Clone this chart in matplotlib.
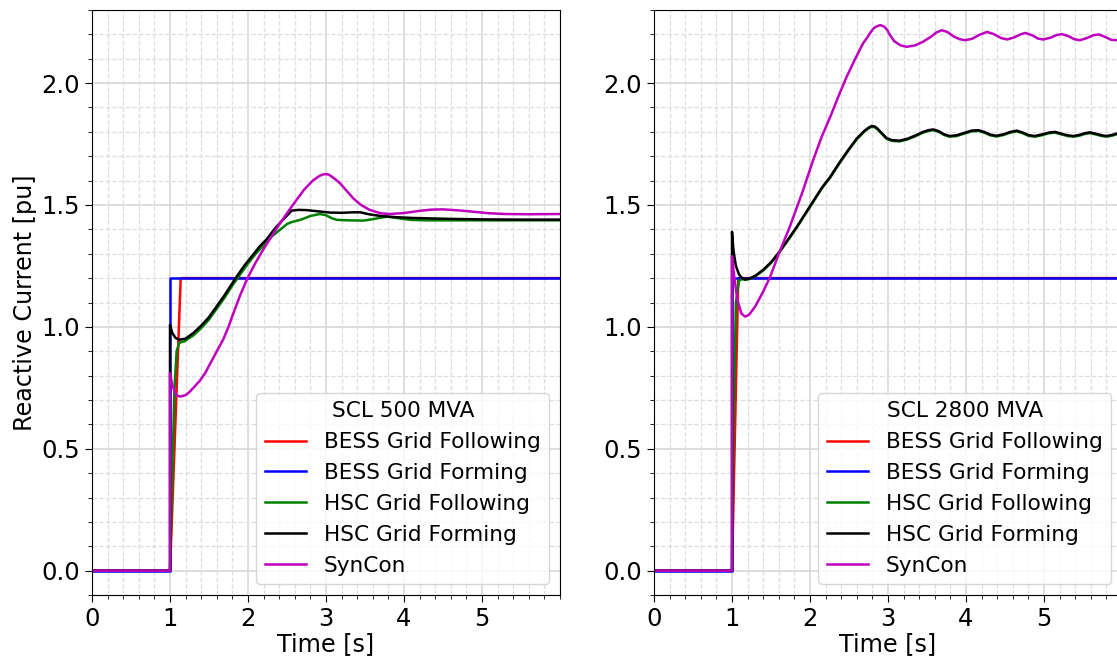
import matplotlib
matplotlib.use("Agg")
import matplotlib.pyplot as plt
from matplotlib.ticker import MultipleLocator

# ---------------- SCL 500 MVA ----------------
t_bess_gfl_500 = [0.0, 1.0, 1.137, 6.0]
i_bess_gfl_500 = [0.0, 0.0, 1.2, 1.2]

t_bess_gfm_500 = [0.0, 1.0, 1.0, 6.0]
i_bess_gfm_500 = [0.0, 0.0, 1.2, 1.2]

t_hsc_gfl_500 = [0.0, 1.0, 1.03, 1.056, 1.085, 1.12, 1.18, 1.3, 1.4, 1.5, 1.6, 1.7,
                 1.8, 1.9, 2.0, 2.1, 2.2, 2.3, 2.41, 2.5, 2.56, 2.68, 2.8, 2.92,
                 3.0, 3.08, 3.14, 3.3, 3.48, 3.6, 3.78, 3.9, 4.08, 4.3, 5.0, 6.0]
i_hsc_gfl_500 = [0.0, 0.0, 0.4, 0.74, 0.9, 0.935, 0.94, 0.965, 0.995, 1.03, 1.075, 1.12,
                 1.17, 1.215, 1.26, 1.3, 1.335, 1.37, 1.398, 1.422, 1.43, 1.44, 1.455, 1.463,
                 1.458, 1.445, 1.439, 1.437, 1.436, 1.442, 1.452, 1.447, 1.439, 1.437, 1.437, 1.437]

t_hsc_gfm_500 = [0.0, 1.0, 1.0, 1.03, 1.07, 1.12, 1.2, 1.3, 1.4, 1.5, 1.6, 1.7,
                 1.77, 1.855, 1.95, 2.05, 2.15, 2.24, 2.35, 2.45, 2.56, 2.65, 2.75, 2.9,
                 3.05, 3.2, 3.35, 3.44, 3.55, 3.7, 3.9, 4.1, 4.33, 4.6, 5.0, 5.5, 6.0]
i_hsc_gfm_500 = [0.0, 0.0, 1.008, 0.975, 0.955, 0.947, 0.952, 0.975, 1.005, 1.04, 1.085, 1.13,
                 1.165, 1.206, 1.25, 1.29, 1.33, 1.36, 1.405, 1.44, 1.477, 1.48, 1.479, 1.474,
                 1.469, 1.468, 1.47, 1.47, 1.462, 1.455, 1.45, 1.447, 1.445, 1.443, 1.441, 1.44, 1.44]

t_syncon_500 = [0.0, 1.0, 1.0, 1.03, 1.08, 1.13, 1.2, 1.25, 1.3, 1.385, 1.45, 1.5, 1.6, 1.68,
                1.75, 1.8, 1.9, 1.98, 2.05, 2.1, 2.2, 2.3, 2.41, 2.52, 2.62, 2.72, 2.83, 2.92,
                2.96, 3.0, 3.04, 3.08, 3.13, 3.18, 3.26, 3.35, 3.45, 3.56, 3.7, 3.82, 4.0, 4.2,
                4.35, 4.5, 4.7, 4.9, 5.1, 5.3, 5.6, 6.0]
i_syncon_500 = [0.0, 0.0, 0.81, 0.76, 0.72, 0.714, 0.72, 0.733, 0.75, 0.78, 0.81, 0.84, 0.9,
                0.947, 1.0, 1.045, 1.13, 1.19, 1.235, 1.265, 1.32, 1.37, 1.425, 1.475, 1.52,
                1.563, 1.6, 1.62, 1.625, 1.627, 1.624, 1.615, 1.603, 1.589, 1.56, 1.527, 1.5,
                1.48, 1.466, 1.463, 1.467, 1.476, 1.481, 1.482, 1.478, 1.472, 1.466, 1.463,
                1.462, 1.463]

# ---------------- SCL 2800 MVA ----------------
t_bess_gfl_2800 = [0.0, 1.0, 1.08, 6.0]
i_bess_gfl_2800 = [0.0, 0.0, 1.2, 1.2]

t_bess_gfm_2800 = [0.0, 1.0, 1.0, 6.0]
i_bess_gfm_2800 = [0.0, 0.0, 1.2, 1.2]

t_hsc_gfm_2800 = [0.0, 1.0, 1.0, 1.02, 1.05, 1.09, 1.13, 1.167, 1.22, 1.3, 1.4, 1.5,
                  1.6, 1.7, 1.83, 1.95, 2.05, 2.15, 2.26, 2.38, 2.5, 2.6, 2.7, 2.75, 2.79,
                  2.83, 2.86, 2.92, 2.98, 3.05, 3.15, 3.25, 3.35, 3.45, 3.52, 3.58, 3.65, 3.72,
                  3.79, 3.88, 3.98, 4.07, 4.16, 4.24, 4.31, 4.39, 4.48, 4.57, 4.65, 4.73, 4.8,
                  4.88, 4.97, 5.06, 5.14, 5.22, 5.3, 5.38, 5.46, 5.53, 5.59, 5.67, 5.74,
                  5.8, 5.88, 5.93, 6.0]
i_hsc_gfm_2800 = [0.0, 0.0, 1.39, 1.31, 1.25, 1.215, 1.2, 1.195, 1.198, 1.21, 1.234, 1.265,
                  1.305, 1.35, 1.41, 1.47, 1.52, 1.57, 1.616, 1.675, 1.73, 1.773, 1.805, 1.817,
                  1.824, 1.822, 1.815, 1.795, 1.775, 1.766, 1.764, 1.772, 1.785, 1.8, 1.807,
                  1.81, 1.803, 1.79, 1.783, 1.786, 1.796, 1.805, 1.807, 1.799, 1.789, 1.784,
                  1.79, 1.8, 1.805, 1.797, 1.787, 1.783, 1.789, 1.797, 1.8, 1.793, 1.786, 1.783,
                  1.788, 1.795, 1.798, 1.792, 1.786, 1.783, 1.788, 1.793, 1.795]

t_hsc_gfl_2800 = [0.0, 1.0, 1.02, 1.05, 1.09, 1.13, 1.167, 1.22, 1.3, 1.4, 1.5,
                  1.6, 1.7, 1.83, 1.95, 2.05, 2.15, 2.26, 2.38, 2.5, 2.6, 2.7, 2.75, 2.79,
                  2.83, 2.86, 2.92, 2.98, 3.05, 3.15, 3.25, 3.35, 3.45, 3.52, 3.58, 3.65, 3.72,
                  3.79, 3.88, 3.98, 4.07, 4.16, 4.24, 4.31, 4.39, 4.48, 4.57, 4.65, 4.73, 4.8,
                  4.88, 4.97, 5.06, 5.14, 5.22, 5.3, 5.38, 5.46, 5.53, 5.59, 5.67, 5.74,
                  5.8, 5.88, 5.93, 6.0]
i_hsc_gfl_2800 = [0.0, 0.0, 0.6, 1.1, 1.19, 1.196, 1.193, 1.196, 1.208, 1.231, 1.262,
                  1.302, 1.347, 1.407, 1.467, 1.517, 1.567, 1.613, 1.672, 1.727, 1.77, 1.802,
                  1.814, 1.821, 1.819, 1.812, 1.792, 1.772, 1.763, 1.761, 1.769, 1.782, 1.797,
                  1.804, 1.807, 1.8, 1.787, 1.78, 1.783, 1.793, 1.802, 1.804, 1.796, 1.786,
                  1.781, 1.787, 1.797, 1.802, 1.794, 1.784, 1.78, 1.786, 1.794, 1.797, 1.79,
                  1.783, 1.78, 1.785, 1.792, 1.795, 1.789, 1.783, 1.78, 1.785, 1.79, 1.792]

t_syncon_2800 = [0.0, 1.0, 1.0, 1.03, 1.07, 1.12, 1.167, 1.22, 1.3, 1.4, 1.49, 1.6,
                 1.74, 1.9, 2.04, 2.15, 2.26, 2.37, 2.47, 2.58, 2.68, 2.74, 2.78, 2.82, 2.85,
                 2.9, 2.95, 2.99, 3.02, 3.08, 3.16, 3.24, 3.35, 3.45, 3.55, 3.62, 3.69, 3.76,
                 3.85, 3.92, 3.99, 4.08, 4.17, 4.27, 4.35, 4.45, 4.53, 4.62, 4.7, 4.76, 4.85,
                 4.92, 4.99, 5.08, 5.16, 5.23, 5.31, 5.39, 5.46, 5.55, 5.63, 5.7, 5.78,
                 5.86, 5.93, 6.0]
i_syncon_2800 = [0.0, 0.0, 1.29, 1.2, 1.11, 1.055, 1.042, 1.05, 1.085, 1.145, 1.206, 1.3,
                 1.41, 1.55, 1.684, 1.78, 1.862, 1.95, 2.026, 2.1, 2.163, 2.19, 2.21, 2.226,
                 2.232, 2.238, 2.232, 2.218, 2.2, 2.172, 2.155, 2.149, 2.155, 2.17, 2.19,
                 2.208, 2.217, 2.21, 2.19, 2.18, 2.176, 2.182, 2.198, 2.21, 2.202, 2.185,
                 2.179, 2.188, 2.2, 2.206, 2.196, 2.183, 2.179, 2.186, 2.197, 2.201, 2.193,
                 2.18, 2.176, 2.185, 2.196, 2.2, 2.19, 2.178, 2.176, 2.18]

series_names = ["BESS Grid Following", "BESS Grid Forming", "HSC Grid Following",
                "HSC Grid Forming", "SynCon"]
series_colors = ["red", "blue", "green", "black", "m"]

panels = [
    ("SCL 500 MVA",
     [(t_bess_gfl_500, i_bess_gfl_500), (t_bess_gfm_500, i_bess_gfm_500),
      (t_hsc_gfl_500, i_hsc_gfl_500), (t_hsc_gfm_500, i_hsc_gfm_500),
      (t_syncon_500, i_syncon_500)]),
    ("SCL 2800 MVA",
     [(t_bess_gfl_2800, i_bess_gfl_2800), (t_bess_gfm_2800, i_bess_gfm_2800),
      (t_hsc_gfl_2800, i_hsc_gfl_2800), (t_hsc_gfm_2800, i_hsc_gfm_2800),
      (t_syncon_2800, i_syncon_2800)]),
]

x_ticks = [0, 1, 2, 3, 4, 5]
y_ticks = [0.0, 0.5, 1.0, 1.5, 2.0]

fig = plt.figure(figsize=(11.17, 6.62), dpi=100)
ax_w = 468 / 1117
ax_h = 585 / 662
ax_bottom = 1 - 595 / 662
positions = [92 / 1117, 654 / 1117]

for k, (title, data) in enumerate(panels):
    ax = fig.add_axes([positions[k], ax_bottom, ax_w, ax_h])
    for (tt, ii), name, col in zip(data, series_names, series_colors):
        ax.plot(tt, ii, color=col, lw=1.8, label=name, solid_joinstyle="round")
    ax.set_xlim(0, 6)
    ax.set_ylim(-0.1, 2.3)
    ax.set_xticks(x_ticks)
    ax.set_yticks(y_ticks)
    ax.xaxis.set_minor_locator(MultipleLocator(0.2))
    ax.yaxis.set_minor_locator(MultipleLocator(0.1))
    ax.grid(which="major", color="#d8d8d8", lw=1.2, ls="-")
    ax.grid(which="minor", color="#dedede", lw=0.9, ls="--")
    ax.set_axisbelow(True)
    ax.tick_params(axis="both", which="major", labelsize=17.5, length=5)
    ax.tick_params(axis="both", which="minor", length=3)
    ax.set_xlabel("Time [s]", fontsize=17.2, labelpad=1)
    if k == 0:
        ax.set_ylabel("Reactive Current [pu]", fontsize=17.2, labelpad=3)
    ax.legend(loc="lower right", title=title, fontsize=15.6,
              title_fontsize=15.6, handlelength=1.9)

fig.savefig("out.png", dpi=100)
